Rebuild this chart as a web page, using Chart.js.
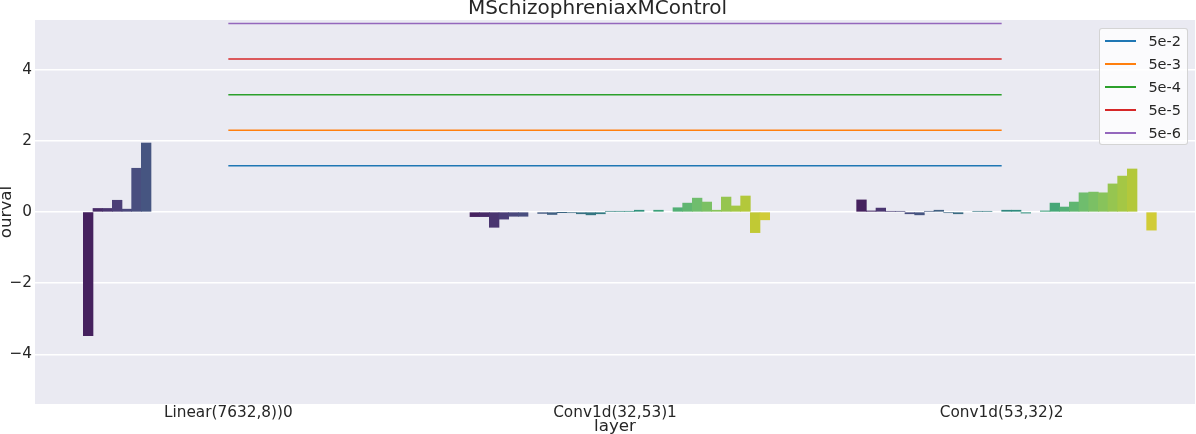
<!DOCTYPE html>
<html>
<head>
<meta charset="utf-8">
<script src="https://cdn.jsdelivr.net/npm/chart.js@4.4.1/dist/chart.umd.min.js"></script>
<style>
  html, body { margin: 0; padding: 0; background: #ffffff; }
  #wrap { position: relative; width: 1196px; height: 434px; }
  #legend {
    position: absolute; box-sizing: border-box;
    background: rgba(255,255,255,0.8);
    border: 1px solid rgba(204,204,204,0.85);
    border-radius: 3px;
    padding: 0 6px 0 5px;
    font-family: "DejaVu Sans", sans-serif; font-size: 14.5px; color: #262626;
  }
  #legend .li { display: flex; align-items: center; height: 23px; white-space: nowrap; }
  #legend .sw { display: inline-block; width: 31px; height: 2px; margin-right: 12px; }
</style>
</head>
<body>
<div id="wrap">
  <canvas id="c" width="1196" height="434"></canvas>
  <div id="legend"></div>
</div>
<script>
// ---------------- data ----------------
const chartTitle = "MSchizophreniaxMControl";
const categories = ["Linear(7632,8))0", "Conv1d(32,53)1", "Conv1d(53,32)2"];
const hueCount = 32;

// bar values per layer, indexed by hue level
const linearVals = [0, -3.48, 0.10, 0.10, 0.33, 0.08, 1.23, 1.94];
const conv1Vals = [0, -0.13, -0.13, -0.43, -0.20, -0.12, -0.12, 0, -0.04, -0.07,
                   -0.01, -0.02, -0.05, -0.08, -0.05, 0.02, 0.02, 0.02, 0.05, 0,
                   0.05, 0, 0.12, 0.25, 0.39, 0.28, 0.05, 0.42, 0.17, 0.45,
                   -0.58, -0.22];
const conv2Vals = [0, 0.34, 0.03, 0.11, 0.02, 0.02, -0.05, -0.08, 0.02, 0.05,
                   -0.02, -0.05, 0, 0.02, 0.02, 0, 0.05, 0.05, -0.03, 0,
                   0.03, 0.25, 0.14, 0.28, 0.54, 0.56, 0.54, 0.79, 1.01, 1.21,
                   0, -0.51];
const layerVals = [linearVals, conv1Vals, conv2Vals];

// significance thresholds (horizontal lines from first to last layer)
const thresholdLabels = ["5e-2", "5e-3", "5e-4", "5e-5", "5e-6"];
const thresholdValues = [1.301, 2.301, 3.301, 4.301, 5.301];
const thresholdColors = ["#1f77b4", "#ff7f0e", "#2ca02c", "#d62728", "#9467bd"];

const yTicks = [-4, -2, 0, 2, 4];

// ---------------- colours (seaborn viridis, saturation 0.75) ----------------
const viridisStops = ["#440154","#471365","#482475","#463480","#414487","#3b528b",
  "#355f8d","#2f6c8e","#2a788e","#25848e","#21918c","#1e9c89","#22a884","#2fb47c",
  "#44bf70","#5ec962","#7ad151","#9bd93c","#bddf26","#dfe318","#fde725"];
function hex2rgb(h){ return [1,3,5].map(i => parseInt(h.substr(i,2),16)/255); }
function viridis(t){
  const n = viridisStops.length - 1, p = t * n;
  const i = Math.min(Math.floor(p), n - 1), f = p - i;
  const a = hex2rgb(viridisStops[i]), b = hex2rgb(viridisStops[i+1]);
  return a.map((v,k) => v + (b[k]-v)*f);
}
function rgbToHls(r,g,b){
  const mx = Math.max(r,g,b), mn = Math.min(r,g,b), l = (mx+mn)/2;
  if (mx === mn) return [0,l,0];
  const s = l <= 0.5 ? (mx-mn)/(mx+mn) : (mx-mn)/(2-mx-mn);
  const rc = (mx-r)/(mx-mn), gc = (mx-g)/(mx-mn), bc = (mx-b)/(mx-mn);
  let h;
  if (r === mx) h = bc - gc; else if (g === mx) h = 2 + rc - bc; else h = 4 + gc - rc;
  h = ((h/6) % 1 + 1) % 1;
  return [h,l,s];
}
function hv(m1,m2,h){
  h = ((h % 1) + 1) % 1;
  if (h < 1/6) return m1 + (m2-m1)*h*6;
  if (h < 0.5) return m2;
  if (h < 2/3) return m1 + (m2-m1)*(2/3-h)*6;
  return m1;
}
function hlsToRgb(h,l,s){
  if (s === 0) return [l,l,l];
  const m2 = l <= 0.5 ? l*(1+s) : l+s-l*s, m1 = 2*l - m2;
  return [hv(m1,m2,h+1/3), hv(m1,m2,h), hv(m1,m2,h-1/3)];
}
function hueColor(i){
  const rgb = viridis((i+1)/(hueCount+1));
  const [h,l,s] = rgbToHls(...rgb);
  const out = hlsToRgb(h,l,s*0.75).map(v => Math.round(v*255));
  return `rgb(${out[0]},${out[1]},${out[2]})`;
}

// ---------------- build datasets ----------------
const barPoints = [], barColors = [];
layerVals.forEach((vals, c) => {
  vals.forEach((v, i) => {
    barPoints.push({ x: c - 0.4 + (0.8/hueCount)*(i+0.5), y: v });
    barColors.push(hueColor(i));
  });
});

const datasets = [{
  type: 'bar', label: 'bars', data: barPoints, backgroundColor: barColors,
  borderWidth: 0, barPercentage: 1, categoryPercentage: 1, order: 2,
  inflateAmount: ctx => (ctx.raw && ctx.raw.y === 0 ? 0 : 0.33)
}];
thresholdValues.forEach((v, k) => {
  datasets.push({
    type: 'line', label: thresholdLabels[k],
    data: [{x: 0, y: v}, {x: categories.length - 1, y: v}],
    borderColor: thresholdColors[k], backgroundColor: thresholdColors[k],
    borderWidth: 1.5, pointRadius: 0, fill: false, order: 1
  });
});

const FONT = "'DejaVu Sans', sans-serif";
const TXT = "#262626";

const bgPlugin = {
  id: 'bg',
  beforeDraw(chart){
    const {ctx, chartArea: a} = chart;
    ctx.save(); ctx.fillStyle = '#eaeaf2';
    ctx.fillRect(a.left, a.top, a.right - a.left, a.bottom - a.top);
    ctx.restore();
  }
};
const htmlLegend = {
  id: 'htmlLegend',
  afterDraw(chart){
    const el = document.getElementById('legend');
    const a = chart.chartArea;
    el.innerHTML = '';
    chart.data.datasets.forEach(ds => {
      if (ds.type !== 'line') return;
      const row = document.createElement('div'); row.className = 'li';
      const sw = document.createElement('span'); sw.className = 'sw';
      sw.style.backgroundColor = ds.borderColor;
      const t = document.createElement('span'); t.textContent = ds.label;
      row.appendChild(sw); row.appendChild(t); el.appendChild(row);
    });
    el.style.top = (a.top + 8) + 'px';
    el.style.right = (chart.width - a.right + 7) + 'px';
  }
};

new Chart(document.getElementById('c'), {
  data: { datasets },
  plugins: [bgPlugin, htmlLegend],
  options: {
    responsive: false, animation: false,
    layout: { padding: { left: 0, right: 1, top: 0, bottom: 0 } },
    plugins: {
      legend: { display: false },
      tooltip: { enabled: false },
      title: {
        display: true, text: chartTitle, color: TXT,
        font: { family: FONT, size: 20, weight: 'normal', lineHeight: 1.0 },
        padding: { top: -1, bottom: 1 }
      }
    },
    scales: {
      x: {
        type: 'linear', min: -0.5, max: 2.5, offset: false,
        grid: { display: false, drawTicks: false },
        border: { display: false },
        afterBuildTicks: s => { s.ticks = categories.map((_, i) => ({ value: i })); },
        afterFit: s => { s.height = 30; },
        ticks: {
          autoSkip: false, maxRotation: 0, padding: 0, color: TXT,
          font: { family: FONT, size: 15.3 },
          callback: v => categories[Math.round(v)]
        },
        title: {
          display: true, text: 'layer', color: TXT,
          font: { family: FONT, size: 16.7, lineHeight: 0.9 }, padding: 0
        }
      },
      y: {
        type: 'linear', min: -5.4, max: 5.4,
        grid: { color: '#ffffff', lineWidth: 1.4, drawTicks: false },
        border: { display: false },
        afterBuildTicks: s => { s.ticks = yTicks.map(v => ({ value: v })); },
        afterFit: s => { s.width = 35; },
        ticks: {
          padding: 3, color: TXT, font: { family: FONT, size: 15.3 },
          callback: v => (v < 0 ? '\u2212' + Math.abs(v) : String(v))
        },
        title: {
          display: true, text: 'ourval', color: TXT,
          font: { family: FONT, size: 16.7, lineHeight: 0.8 }, padding: 0
        }
      }
    }
  }
});
</script>
</body>
</html>
